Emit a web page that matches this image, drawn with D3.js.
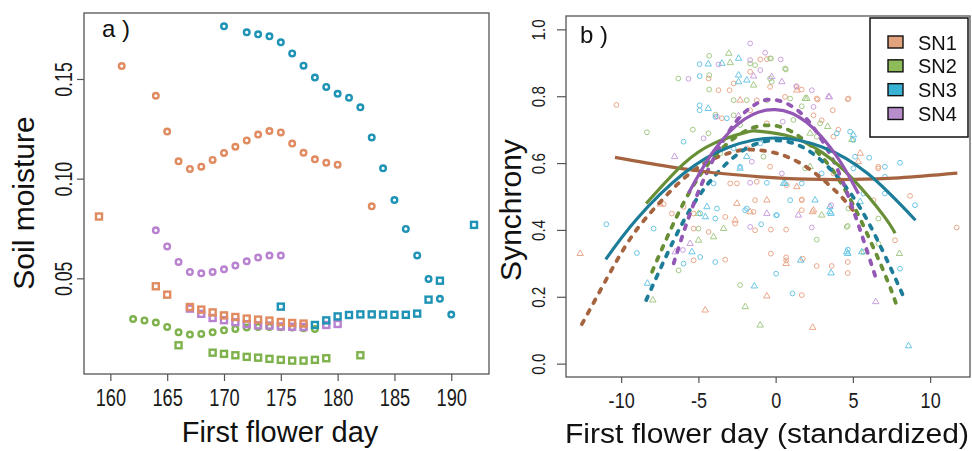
<!DOCTYPE html>
<html>
<head>
<meta charset="utf-8">
<script src="https://cdn.jsdelivr.net/npm/d3@7"></script>
<style>
  body { margin: 0; background: #fff; }
  svg { font-family: "Liberation Sans", Arial, sans-serif; }
</style>
</head>
<body>
<div id="chart"></div>
<script>
// ---- panel a: soil moisture by first flower day ----
const sn1CircleDays = [161,164,165,166,167,168,169,170,171,172,173,174,175,176,177,178,179,180,183];
const sn1CircleVals = [0.1565,0.1416,0.1236,0.1087,0.1049,0.1060,0.1094,0.1129,0.1160,0.1192,0.1221,0.1239,0.1232,0.1176,0.1130,0.1097,0.1080,0.1070,0.0861];
const sn2CircleDays = [162,163,164,165,166,167,168,169,170,171,172,173,174,175,176,177,178];
const sn2CircleVals = [0.0296,0.0289,0.0278,0.0256,0.0229,0.0218,0.0221,0.0229,0.0239,0.0246,0.0253,0.0256,0.0256,0.0255,0.0253,0.0249,0.0246];
const sn3CircleDays = [170,172,173,174,175,176,177,178,179,180,181,182,183,184,185,186,187,188,189,190];
const sn3CircleVals = [0.1764,0.1734,0.1724,0.1714,0.1684,0.1628,0.1567,0.1507,0.1460,0.1426,0.1406,0.1358,0.1207,0.1052,0.0893,0.0748,0.0615,0.0497,0.0397,0.0318];
const sn4CircleDays = [164,165,166,167,168,169,170,171,172,173,174,175];
const sn4CircleVals = [0.0741,0.0660,0.0582,0.0532,0.0525,0.0532,0.0545,0.0564,0.0585,0.0604,0.0614,0.0614];

const sn1SquareDays = [159,164,165,167,168,169,170,171,172,173,174,175,176,177];
const sn1SquareVals = [0.0810,0.0460,0.0418,0.0356,0.0343,0.0329,0.0314,0.0306,0.0298,0.0293,0.0288,0.0281,0.0276,0.0273];
const sn2SquareDays = [166,169,170,171,172,173,174,175,176,177,178,179,182];
const sn2SquareVals = [0.0164,0.0127,0.0121,0.0114,0.0106,0.0102,0.0096,0.0091,0.0087,0.0087,0.0091,0.0099,0.0114];
const sn3SquareDays = [175,178,179,180,181,182,183,184,185,186,187,188,189,192];
const sn3SquareVals = [0.0358,0.0266,0.0289,0.0309,0.0316,0.0319,0.0319,0.0318,0.0317,0.0317,0.0323,0.0393,0.0488,0.0768];
const sn4SquareDays = [167,168,169,170,171,172,173,174,175,176,177,179,180];
const sn4SquareVals = [0.0348,0.0322,0.0301,0.0290,0.0280,0.0270,0.0264,0.0263,0.0259,0.0257,0.0256,0.0266,0.0271];

const dayTicks = [160,165,170,175,180,185,190];
const moistureTicks = [0.05,0.10,0.15];

// ---- panel b: synchrony by standardized first flower day ----
const siteNames = ["SN1","SN2","SN3","SN4"];
const stdTicks = [-10,-5,0,5,10];
const syncTicks = [0,0.2,0.4,0.6,0.8,1.0];

// [x, synchrony, shape]  c = circle, t = triangle
const sn1Points = [[-10.31,0.774,"c"],[-4.34,0.853,"c"],[-3.7,0.818,"c"],[-2.98,0.818,"c"],[-2.72,0.838,"c"],[-1.0,0.910,"c"],[-0.57,0.911,"c"],[-1.65,0.873,"c"],[-0.36,0.828,"c"],[1.69,0.82,"c"],[-1.22,0.788,"c"],[0.61,0.798,"c"],[2.71,0.79,"c"],[4.67,0.791,"c"],[3.7,0.758,"c"],[2.45,0.743,"c"],[2.98,0.728,"c"],[4.06,0.70,"c"],[3.74,0.679,"c"],[-1.65,0.758,"c"],[-3.48,0.734,"c"],[-0.57,0.719,"c"],[-1.87,0.644,"c"],[-0.36,0.589,"c"],[3.74,0.569,"c"],[6.64,0.584,"c"],[8.7,0.502,"c"],[-2.94,0.539,"c"],[-2.51,0.539,"c"],[-1.22,0.544,"c"],[0.72,0.534,"c"],[-1.33,0.489,"c"],[-1.43,0.454,"c"],[1.69,0.489,"c"],[1.69,0.459,"c"],[6.33,0.489,"c"],[-6.72,0.449,"c"],[-7.25,0.477,"c"],[-5.96,0.469,"c"],[-5.31,0.449,"c"],[-5.31,0.404,"c"],[-5.31,0.309,"c"],[-4.34,0.394,"c"],[-3.26,0.439,"c"],[-3.26,0.311,"c"],[-2.62,0.419,"c"],[-1.33,0.399,"c"],[-0.31,0.401,"c"],[0.68,0.401,"c"],[-0.31,0.329,"c"],[0.68,0.309,"c"],[0.68,0.318,"c"],[1.69,0.205,"c"],[1.75,0.314,"c"],[2.66,0.292,"c"],[3.63,0.292,"c"],[4.67,0.304,"c"],[4.67,0.271,"c"],[7.73,0.369,"c"],[11.72,0.407,"c"],[1.37,0.828,"c"],[2.66,0.793,"c"],[4.71,0.793,"c"],[6.65,0.589,"c"],[1.69,0.491,"c"],
  [-2.3,0.788,"t"],[5.35,0.604,"t"],[-0.57,0.489,"t"],[-2.51,0.479,"t"],[2.45,0.459,"t"],[-12.65,0.329,"t"],[-7.47,0.477,"t"],[-4.56,0.160,"t"],[-2.62,0.429,"t"],[-1.65,0.454,"t"],[0.68,0.299,"t"],[-0.57,0.202,"t"],[2.38,0.454,"t"],[2.4,0.108,"t"],[1.37,0.529,"t"],[5.47,0.629,"t"],[1.37,0.818,"t"]];
const sn2Points = [[-8.33,0.692,"c"],[-5.36,0.70,"c"],[-4.35,0.689,"c"],[-6.3,0.853,"c"],[-4.3,0.863,"c"],[-4.3,0.921,"c"],[-4.3,0.82,"c"],[-1.65,0.898,"c"],[-1.33,0.893,"c"],[-0.31,0.913,"c"],[0.66,0.880,"c"],[-0.25,0.843,"c"],[-2.72,0.788,"c"],[-1.87,0.788,"c"],[-0.57,0.788,"c"],[0.94,0.793,"c"],[1.69,0.77,"c"],[2.66,0.679,"c"],[2.88,0.719,"c"],[-2.72,0.743,"c"],[-2.3,0.714,"c"],[1.15,0.729,"c"],[-3.59,0.629,"c"],[-0.79,0.619,"c"],[1.91,0.584,"c"],[4.71,0.464,"c"],[-4.99,0.404,"c"],[-6.28,0.279,"c"],[-2.3,0.235,"c"],[2.66,0.371,"c"],[4.67,0.412,"c"],[6.65,0.359,"c"],[4.6,0.409,"c"],[6.65,0.434,"c"],[5.68,0.334,"c"],[-0.36,0.913,"c"],[0.61,0.883,"c"],[-0.36,0.853,"c"],[-3.9,0.745,"c"],
  [-2.94,0.90,"t"],[-3.03,0.928,"t"],[-1.43,0.833,"t"],[1.91,0.793,"t"],[3.37,0.709,"t"],[4.93,0.67,"t"],[2.23,0.689,"t"],[2.23,0.589,"t"],[2.98,0.444,"t"],[-4.99,0.449,"t"],[-4.99,0.369,"t"],[-4.02,0.379,"t"],[-3.37,0.404,"t"],[-1.97,0.170,"t"],[-1.0,0.115,"t"],[8.01,0.329,"t"],[2.02,0.793,"t"],[-7.95,0.19,"t"]];
const sn3Points = [[-5.96,0.664,"c"],[-4.92,0.860,"c"],[-4.92,0.896,"c"],[-4.92,0.773,"c"],[-4.92,0.758,"c"],[3.96,0.689,"c"],[4.82,0.694,"c"],[5.03,0.669,"c"],[-3.16,0.734,"c"],[-1.0,0.659,"c"],[-2.72,0.644,"c"],[-2.3,0.589,"c"],[2.98,0.569,"c"],[5.03,0.584,"c"],[6.06,0.616,"c"],[7.07,0.589,"c"],[8.05,0.601,"c"],[7.07,0.559,"c"],[7.07,0.509,"c"],[9.02,0.474,"c"],[-4.02,0.539,"c"],[-0.57,0.541,"c"],[-1.87,0.464,"c"],[-3.8,0.464,"c"],[0.94,0.489,"c"],[5.68,0.509,"c"],[-4.88,0.449,"c"],[-10.96,0.417,"c"],[-8.98,0.331,"c"],[-7.9,0.404,"c"],[-5.96,0.299,"c"],[-4.88,0.319,"c"],[-3.91,0.434,"c"],[-3.91,0.304,"c"],[-1.98,0.459,"c"],[-0.94,0.417,"c"],[0.03,0.444,"c"],[0.03,0.269,"c"],[1.09,0.21,"c"],[4.67,0.341,"c"],[8.05,0.284,"c"],[1.69,0.539,"c"],[0.08,0.444,"c"],[5.14,0.619,"c"],[-3.9,0.738,"c"],
  [-4.36,0.896,"t"],[-3.48,0.898,"t"],[-4.36,0.763,"t"],[-2.4,0.913,"t"],[-2.4,0.863,"t"],[-2.4,0.843,"t"],[-1.87,0.848,"t"],[5.03,0.684,"t"],[-1.87,0.619,"t"],[-2.3,0.584,"t"],[0.61,0.539,"t"],[-4.45,0.469,"t"],[3.52,0.469,"t"],[-5.42,0.334,"t"],[-4.55,0.439,"t"],[-1.38,0.232,"t"],[1.62,0.309,"t"],[3.59,0.449,"t"],[3.59,0.271,"t"],[4.67,0.329,"t"],[5.57,0.334,"t"],[8.6,0.053,"t"],[2.55,0.489,"t"],[3.52,0.454,"t"],[0.51,0.539,"t"],[5.47,0.484,"t"],[4.6,0.334,"t"],[-8.3,0.24,"t"]];
const sn4Points = [[-5.64,0.852,"c"],[-4.67,0.674,"c"],[-1.65,0.958,"c"],[-1.65,0.908,"c"],[0.33,0.910,"c"],[-0.68,0.930,"c"],[-1.0,0.878,"c"],[1.33,0.830,"c"],[2.34,0.818,"c"],[2.45,0.768,"c"],[-3.8,0.739,"c"],[-1.43,0.704,"c"],[0.46,0.724,"c"],[-1.54,0.604,"c"],[0.4,0.569,"c"],[-1.65,0.541,"c"],[-3.7,0.895,"c"],[-1.65,0.409,"c"],[2.34,0.407,"c"],[3.59,0.474,"c"],[-6.0,0.34,"c"],
  [-6.54,0.619,"t"],[-1.43,0.860,"t"],[-0.25,0.858,"t"],[0.4,0.843,"t"],[3.48,0.798,"t"],[-2.4,0.741,"t"],[-0.57,0.449,"t"],[-5.53,0.359,"t"],[-6.5,0.334,"t"],[1.47,0.444,"t"],[6.48,0.185,"t"],[3.42,0.798,"t"]];

// fitted curves, [x, synchrony]
const sn1Solid  = [[-10.4,0.617],[-7,0.590],[-4,0.571],[-1,0.559],[2,0.552],[5,0.551],[8,0.556],[11.76,0.570]];
const sn2Solid  = [[-8.38,0.479],[-6,0.596],[-4,0.659],[-2,0.691],[-1,0.695],[1,0.679],[3,0.632],[5,0.552],[7,0.442],[7.73,0.390]];
const sn3Solid  = [[-11,0.312],[-9,0.432],[-6,0.567],[-3,0.648],[0,0.675],[3,0.648],[6,0.567],[9.05,0.429]];
const sn4Solid  = [[-5.64,0.51],[-4,0.637],[-2,0.732],[0,0.76],[2,0.722],[4,0.617],[5.36,0.508]];
const sn1Dashed = [[-12.54,0.118],[-11.35,0.219],[-10.27,0.309],[-9.2,0.388],[-7.7,0.472],[-5,0.588],[-2.5,0.636],[-1.5,0.640],[0,0.630],[2,0.588],[4,0.511],[5,0.459]];
const sn2Dashed = [[-8,0.275],[-6,0.477],[-4,0.618],[-2,0.695],[-0.5,0.713],[1,0.695],[3,0.618],[5,0.477],[7,0.275],[7.79,0.180]];
const sn3Dashed = [[-8.38,0.19],[-6,0.423],[-4,0.559],[-2,0.641],[0,0.668],[2,0.641],[4,0.559],[6,0.423],[8.38,0.19]];
const sn4Dashed = [[-6.6,0.30],[-5,0.514],[-3,0.696],[-1.5,0.770],[-0.2,0.790],[1.5,0.755],[3,0.668],[4.5,0.526],[6.44,0.263]];

const markColors = ["#e08b60", "#7fb24c", "#1f93b5", "#b982d0"];
const pointColors = ["#e89a78", "#96c172", "#4fbbe0", "#c08fd8"];
const lineColors = ["#a5643f", "#688f36", "#1d7d98", "#9357b5"];
const legendColors = ["#e3a27e", "#8fbc5a", "#38b3d6", "#b78dcb"];

const W = 972, H = 451;
const AXIS_COL = "#555";

var svg = d3.select("#chart").append("svg")
    .attr("width", W)
    .attr("height", H);

// narrow tick labels, like the original output
function squeezeX(sel, sx) {
    sel.selectAll(".tick text").attr("transform", "scale(" + sx + ",1)");
}

function drawFrame(x, y) {
    svg.append("rect")
        .attr("x", x.range()[0])
        .attr("y", y.range()[1])
        .attr("width", x.range()[1] - x.range()[0])
        .attr("height", y.range()[0] - y.range()[1])
        .attr("fill", "none")
        .attr("stroke", AXIS_COL)
        .attr("stroke-width", 1.3);
}

function drawAxes(x, y, opt) {
    var gx = svg.append("g")
        .attr("transform", "translate(0," + y.range()[0] + ")")
        .call(d3.axisBottom(x).tickValues(opt.xTicks).tickSize(opt.xTickLen).tickFormat(opt.xFormat));
    gx.select(".domain").remove();
    gx.selectAll(".tick line").attr("stroke", AXIS_COL).attr("stroke-width", 1.2);
    gx.selectAll(".tick text")
        .attr("dy", null)
        .attr("y", opt.xLabelY)
        .attr("fill", "#1a1a1a")
        .style("font-size", opt.xFont + "px");
    squeezeX(gx, opt.xSqueeze);

    var gy = svg.append("g")
        .attr("transform", "translate(" + x.range()[0] + ",0)")
        .call(d3.axisLeft(y).tickValues(opt.yTicks).tickSize(opt.yTickLen).tickFormat(opt.yFormat));
    gy.select(".domain").remove();
    gy.selectAll(".tick line").attr("stroke", AXIS_COL).attr("stroke-width", 1.2);
    gy.selectAll(".tick text")
        .attr("x", 0)
        .attr("dy", null)
        .attr("text-anchor", "middle")
        .attr("fill", "#1a1a1a")
        .style("font-size", opt.yFont + "px")
        .attr("transform", "translate(" + opt.yLabelX + ",0) rotate(-90) scale(" + opt.ySqueeze + ",1)");
}

// ================= panel a =================
var xA = d3.scaleLinear().domain([157.68, 193.32]).range([84, 489]);
var yA = d3.scaleLinear().domain([0.002, 0.1831]).range([374, 13]);

drawFrame(xA, yA);
drawAxes(xA, yA, {
    xTicks: dayTicks, xTickLen: 7, xFormat: d => String(d), xLabelY: 32, xFont: 24, xSqueeze: 0.76,
    yTicks: moistureTicks, yTickLen: 7, yFormat: d3.format(".2f"), yLabelX: -12, yFont: 24, ySqueeze: 0.74
});

var circleSeries = [
    {days: sn1CircleDays, vals: sn1CircleVals, c: 0},
    {days: sn2CircleDays, vals: sn2CircleVals, c: 1},
    {days: sn3CircleDays, vals: sn3CircleVals, c: 2},
    {days: sn4CircleDays, vals: sn4CircleVals, c: 3}
];
var squareSeries = [
    {days: sn2SquareDays, vals: sn2SquareVals, c: 1},
    {days: sn4SquareDays, vals: sn4SquareVals, c: 3},
    {days: sn1SquareDays, vals: sn1SquareVals, c: 0},
    {days: sn3SquareDays, vals: sn3SquareVals, c: 2}
];

circleSeries.forEach(s => {
    svg.append("g").selectAll("circle")
        .data(s.days.map((d, i) => [d, s.vals[i]]))
        .enter()
        .append("circle")
        .attr("cx", d => xA(d[0]))
        .attr("cy", d => yA(d[1]))
        .attr("r", 2.8)
        .attr("fill", "none")
        .attr("stroke", markColors[s.c])
        .attr("stroke-width", 2.4);
});

squareSeries.forEach(s => {
    svg.append("g").selectAll("rect")
        .data(s.days.map((d, i) => [d, s.vals[i]]))
        .enter()
        .append("rect")
        .attr("x", d => xA(d[0]) - 3)
        .attr("y", d => yA(d[1]) - 3)
        .attr("width", 6)
        .attr("height", 6)
        .attr("fill", "none")
        .attr("stroke", markColors[s.c])
        .attr("stroke-width", 2.4);
});

svg.append("text")
    .attr("x", 102)
    .attr("y", 37)
    .style("font-size", "24px")
    .attr("fill", "#111")
    .text("a )");

svg.append("text")
    .attr("x", 280)
    .attr("y", 442)
    .attr("text-anchor", "middle")
    .style("font-size", "29px")
    .attr("fill", "#111")
    .text("First flower day");

svg.append("text")
    .attr("transform", "translate(34,203) rotate(-90)")
    .attr("text-anchor", "middle")
    .style("font-size", "30px")
    .attr("fill", "#111")
    .text("Soil moisture");

// ================= panel b =================
var xB = d3.scaleLinear().domain([-13.57, 12.58]).range([566, 970]);
var yB = d3.scaleLinear().domain([-0.04, 1.04]).range([377, 16]);

drawFrame(xB, yB);
drawAxes(xB, yB, {
    xTicks: stdTicks, xTickLen: 6, xFormat: d => String(d), xLabelY: 31, xFont: 22, xSqueeze: 0.82,
    yTicks: syncTicks, yTickLen: 9, yFormat: d3.format(".1f"), yLabelX: -21, yFont: 19, ySqueeze: 0.8
});

var tri = d3.symbol().type(d3.symbolTriangle).size(18);
[sn1Points, sn2Points, sn3Points, sn4Points].forEach((pts, k) => {
    var g = svg.append("g").attr("opacity", 0.85);
    g.selectAll("circle")
        .data(pts.filter(p => p[2] === "c"))
        .enter()
        .append("circle")
        .attr("cx", d => xB(d[0]))
        .attr("cy", d => yB(d[1]))
        .attr("r", 2.4)
        .attr("fill", "none")
        .attr("stroke", pointColors[k])
        .attr("stroke-width", 1);
    g.selectAll("path")
        .data(pts.filter(p => p[2] === "t"))
        .enter()
        .append("path")
        .attr("d", tri)
        .attr("transform", d => "translate(" + xB(d[0]) + "," + yB(d[1]) + ")")
        .attr("fill", "none")
        .attr("stroke", pointColors[k])
        .attr("stroke-width", 1);
});

var curve = d3.line()
    .x(d => xB(d[0]))
    .y(d => yB(d[1]))
    .curve(d3.curveNatural);

[sn1Dashed, sn2Dashed, sn3Dashed, sn4Dashed].forEach((c, k) => {
    svg.append("path")
        .attr("d", curve(c))
        .attr("fill", "none")
        .attr("stroke", lineColors[k])
        .attr("stroke-width", 3.8)
        .attr("stroke-linecap", "round")
        .attr("stroke-dasharray", "4,8");
});
[sn1Solid, sn2Solid, sn3Solid, sn4Solid].forEach((c, k) => {
    svg.append("path")
        .attr("d", curve(c))
        .attr("fill", "none")
        .attr("stroke", lineColors[k])
        .attr("stroke-width", 3.2);
});

// legend
var legend = svg.append("g");
legend.append("rect")
    .attr("x", 870).attr("y", 18)
    .attr("width", 98).attr("height", 119)
    .attr("fill", "#fff")
    .attr("stroke", "#111")
    .attr("stroke-width", 1.5);
var ly = d3.scalePoint().domain(siteNames).range([42, 113.5]);
siteNames.forEach((name, i) => {
    legend.append("rect")
        .attr("x", 888).attr("y", ly(name) - 6)
        .attr("width", 15).attr("height", 12)
        .attr("fill", legendColors[i])
        .attr("stroke", "#111")
        .attr("stroke-width", 1.4);
    legend.append("text")
        .attr("x", 918).attr("y", ly(name) + 7.5)
        .style("font-size", "20px")
        .attr("fill", "#111")
        .text(name);
});

svg.append("text")
    .attr("x", 580)
    .attr("y", 43)
    .style("font-size", "24px")
    .attr("fill", "#111")
    .text("b )");

svg.append("text")
    .attr("x", 767)
    .attr("y", 443)
    .attr("text-anchor", "middle")
    .attr("textLength", 404)
    .attr("lengthAdjust", "spacingAndGlyphs")
    .style("font-size", "27px")
    .attr("fill", "#111")
    .text("First flower day (standardized)");

svg.append("text")
    .attr("transform", "translate(521,210) rotate(-90)")
    .attr("text-anchor", "middle")
    .style("font-size", "30px")
    .attr("fill", "#111")
    .text("Synchrony");
</script>
</body>
</html>
